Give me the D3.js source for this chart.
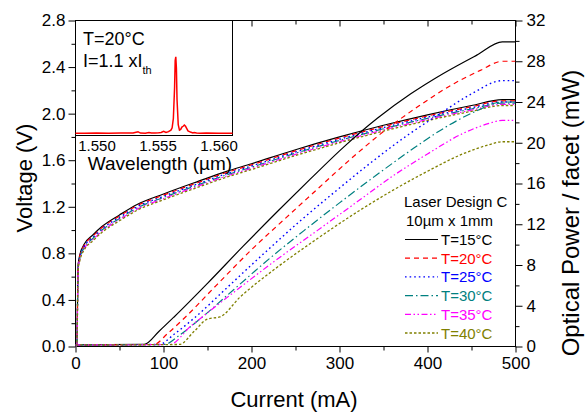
<!DOCTYPE html>
<html><head><meta charset="utf-8">
<script src="https://cdn.jsdelivr.net/npm/d3@7"></script>
<style>
body{margin:0;background:#fff}
svg{display:block}
text{font-family:"Liberation Sans",Arial,Helvetica,sans-serif;fill:#000}
</style>
</head><body>
<svg id="chart" width="586" height="412"></svg>
<script>
// ---------------- data ----------------
const tempLabels = ["T=15°C","T=20°C","T=25°C","T=30°C","T=35°C","T=40°C"];

// Voltage vs current (left axis)
const vCurrent = [0,1.5,3,5,10,20,30,50,70,100,140,170,200,250,300,350,400,450,485,500];
const v15 = [0,0.01,0.70,0.79,0.88,0.96,1.03,1.13,1.22,1.31,1.42,1.50,1.57,1.69,1.80,1.90,1.99,2.07,2.12,2.12];
const v20 = [0,0.01,0.69,0.78,0.87,0.95,1.02,1.12,1.21,1.30,1.41,1.49,1.56,1.68,1.79,1.89,1.98,2.06,2.11,2.11];
const v25 = [0,0.01,0.68,0.77,0.86,0.94,1.01,1.11,1.20,1.29,1.40,1.48,1.55,1.67,1.78,1.88,1.97,2.05,2.10,2.10];
const v30 = [0,0.01,0.68,0.76,0.85,0.93,1.00,1.10,1.19,1.28,1.39,1.47,1.54,1.66,1.77,1.87,1.96,2.04,2.09,2.09];
const v35 = [0,0.01,0.67,0.75,0.84,0.92,0.99,1.09,1.18,1.27,1.38,1.46,1.53,1.65,1.76,1.86,1.95,2.03,2.08,2.08];
const v40 = [0,0.01,0.66,0.74,0.83,0.91,0.98,1.08,1.17,1.26,1.37,1.45,1.52,1.64,1.75,1.85,1.94,2.02,2.07,2.07];

// Optical power vs current (right axis)
const li15I = [0,78,95,112,150,190,230,267,305,343,381,418,456,485,500];
const li15P = [0.15,0.2,1.5,2.9,6.2,9.8,13.3,16.45,19.6,22.4,24.8,26.8,28.6,29.9,29.9];
const li20I = [0,89,105,125,160,200,240,273,310,350,390,430,460,485,500];
const li20P = [0.15,0.2,1.3,2.9,6.0,9.5,12.7,15.3,18.2,21.1,23.6,25.8,27.1,28.0,28.0];
const li25I = [0,95,112,135,175,215,255,295,335,375,415,450,485,500];
const li25P = [0.15,0.2,1.2,2.8,6.0,9.2,12.3,15.2,18.0,20.6,22.9,24.8,26.1,26.1];
const li30I = [0,101,118,140,180,220,260,300,340,380,420,455,485,500];
const li30P = [0.15,0.2,1.1,2.6,5.6,8.6,11.4,14.1,16.7,19.2,21.5,23.1,24.0,24.0];
const li35I = [0,107,131,150,190,225,275,320,360,400,440,470,485,500];
const li35P = [0.15,0.2,2.0,3.3,6.0,8.3,11.4,14.2,16.7,18.9,20.9,21.9,22.2,22.2];
const li40I = [0,118,135,150,164,187,225,275,320,360,400,440,470,485,500];
const li40P = [0.15,0.2,1.5,2.7,2.9,4.85,7.5,10.6,13.2,15.3,17.2,18.9,19.8,20.1,20.1];

// Inset spectrum
const specWl  = [1.5480,1.5490,1.5500,1.5510,1.5520,1.5530,1.5534,1.5536,1.5540,1.5543,1.5545,1.5548,1.5551,1.5553,1.5555,1.5557,1.5559,1.5561,1.5562,1.5563,1.5564,1.55645,1.5565,1.55655,1.5566,1.5567,1.5568,1.5569,1.5570,1.5571,1.5572,1.5573,1.5574,1.5575,1.5577,1.5579,1.5580,1.5582,1.5585,1.5590,1.5600,1.5610,1.5615];
const specInt = [0.01,0.01,0.012,0.01,0.012,0.012,0.03,0.012,0.01,0.02,0.012,0.012,0.015,0.02,0.035,0.02,0.03,0.05,0.08,0.2,0.6,0.95,1.0,0.85,0.45,0.12,0.05,0.06,0.09,0.1,0.115,0.1,0.07,0.04,0.025,0.015,0.02,0.012,0.01,0.012,0.01,0.01,0.01];

// Tick values
const xTicks = [0,100,200,300,400,500];
const xMinor = [50,150,250,350,450];
const vTicks = [0,0.4,0.8,1.2,1.6,2.0,2.4,2.8];
const vMinor = [0.2,0.6,1.0,1.4,1.8,2.2,2.6];
const pTicks = [0,4,8,12,16,20,24,28,32];
const pMinor = [2,6,10,14,18,22,26,30];
const wlTicks = [1.550,1.555,1.560];

// ---------------- styles ----------------
const colors = ["#000000","#ff0000","#0000ff","#008080","#ff00ff","#808000"];
const dashes = [null,"5,4","1.6,3","8,3,1.5,3","6,2.5,1.5,2.5,1.5,2.5","2.5,2"];
const widths = [1.2,1.2,1.4,1.2,1.2,1.3];

const vSeries = [v15,v20,v25,v30,v35,v40];
const liSeries = [[li15I,li15P],[li20I,li20P],[li25I,li25P],[li30I,li30P],[li35I,li35P],[li40I,li40P]];

// ---------------- layout ----------------
const L = 75.5, R = 515.5, T = 20.5, B = 346.5;
const svg = d3.select("#chart");

const x = d3.scaleLinear().domain([0,500]).range([L,R]);
const yV = d3.scaleLinear().domain([0,2.8]).range([B,T]);
const yP = d3.scaleLinear().domain([0,32]).range([B,T]);

svg.append("defs").append("clipPath").attr("id","plotClip")
  .append("rect").attr("x",L).attr("y",T).attr("width",R-L).attr("height",B-T);

const fs = 17;
function styleAxis(g){ g.select(".domain").remove(); g.selectAll("line").attr("stroke","#000"); g.selectAll("text").style("font-size",fs+"px"); }

svg.append("g").attr("transform",`translate(0,${B})`)
  .call(d3.axisBottom(x).tickValues(xTicks).tickSize(6).tickPadding(4).tickFormat(d3.format("d")))
  .call(styleAxis);
svg.append("g").attr("transform",`translate(0,${B})`)
  .call(d3.axisBottom(x).tickValues(xMinor).tickSize(4).tickFormat(""))
  .call(styleAxis);
svg.append("g").attr("transform",`translate(0,${T})`)
  .call(d3.axisTop(x).tickValues(xTicks).tickSize(-6).tickFormat(""))
  .call(styleAxis);
svg.append("g").attr("transform",`translate(0,${T})`)
  .call(d3.axisTop(x).tickValues(xMinor).tickSize(-4).tickFormat(""))
  .call(styleAxis);
svg.append("g").attr("transform",`translate(${L},0)`)
  .call(d3.axisLeft(yV).tickValues(vTicks).tickSize(7).tickPadding(3).tickFormat(d3.format(".1f")))
  .call(styleAxis);
svg.append("g").attr("transform",`translate(${L},0)`)
  .call(d3.axisLeft(yV).tickValues(vMinor).tickSize(4).tickFormat(""))
  .call(styleAxis);
svg.append("g").attr("transform",`translate(${R},0)`)
  .call(d3.axisRight(yP).tickValues(pTicks).tickSize(7).tickPadding(4).tickFormat(d3.format("d")))
  .call(styleAxis);
svg.append("g").attr("transform",`translate(${R},0)`)
  .call(d3.axisRight(yP).tickValues(pMinor).tickSize(4).tickFormat(""))
  .call(styleAxis);

svg.append("rect").attr("x",L).attr("y",T).attr("width",R-L).attr("height",B-T)
  .attr("fill","none").attr("stroke","#000").attr("stroke-width",1);

// axis titles
svg.append("text").attr("x",294).attr("y",407).attr("text-anchor","middle")
  .style("font-size","22px").text("Current (mA)");
svg.append("text").attr("transform",`translate(32,178) rotate(-90)`).attr("text-anchor","middle")
  .style("font-size","22px").text("Voltage (V)");
svg.append("text").attr("transform",`translate(579,213) rotate(-90)`).attr("text-anchor","middle")
  .style("font-size","24px").text("Optical Power / facet (mW)");

// curves
const plot = svg.append("g").attr("clip-path","url(#plotClip)");
const lineV = d3.line().x((d,i)=>x(vCurrent[i])).y(d=>yV(d)).curve(d3.curveMonotoneX);
vSeries.forEach((s,k)=>{
  plot.append("path").datum(s).attr("d",lineV).attr("fill","none")
    .attr("stroke",colors[k]).attr("stroke-width",widths[k])
    .attr("stroke-dasharray",dashes[k]);
});
liSeries.forEach((s,k)=>{
  const [I,P] = s;
  const ln = d3.line().x((d,i)=>x(I[i])).y(d=>yP(d)).curve(d3.curveMonotoneX);
  plot.append("path").datum(P).attr("d",ln).attr("fill","none")
    .attr("stroke",colors[k]).attr("stroke-width",widths[k])
    .attr("stroke-dasharray",dashes[k]);
});

// legend
const lg = svg.append("g");
lg.append("text").attr("x",404).attr("y",207).style("font-size","15px").text("Laser Design C");
lg.append("text").attr("x",406).attr("y",226).style("font-size","15px").text("10µm x 1mm");
tempLabels.forEach((t,k)=>{
  const cy = 239.5 + k*18.7;
  lg.append("line").attr("x1",405).attr("x2",438).attr("y1",cy).attr("y2",cy)
    .attr("stroke",colors[k]).attr("stroke-width",widths[k]).attr("stroke-dasharray",dashes[k]);
  lg.append("text").attr("x",441).attr("y",cy+5.5).style("font-size","15px")
    .style("fill",colors[k]).text(t);
});

// inset
const iL = L, iR = 232.5, iT = T, iB = 135.5;
const xi = d3.scaleLinear().domain([1.548279,1.561148]).range([iL,iR]);
const yi = d3.scaleLinear().domain([0,1.47]).range([134,iT]);
svg.append("rect").attr("x",iL).attr("y",iT).attr("width",iR-iL).attr("height",iB-iT)
  .attr("fill","#fff").attr("stroke","#000").attr("stroke-width",1);
svg.append("defs").append("clipPath").attr("id","insetClip")
  .append("rect").attr("x",iL).attr("y",iT).attr("width",iR-iL).attr("height",iB-iT);
svg.append("path").datum(specInt).attr("clip-path","url(#insetClip)")
  .attr("d",d3.line().x((d,i)=>xi(specWl[i])).y(d=>yi(d)))
  .attr("fill","none").attr("stroke","#ff0000").attr("stroke-width",1.5);
svg.append("g").attr("transform",`translate(0,${iB})`)
  .call(d3.axisBottom(xi).tickValues(wlTicks).tickSize(0).tickPadding(5).tickFormat(d3.format(".3f")))
  .call(g=>{g.select(".domain").remove(); g.selectAll("text").style("font-size","15px");});
svg.append("text").attr("x",160).attr("y",170).attr("text-anchor","middle")
  .style("font-size","19px").text("Wavelength (µm)");
svg.append("text").attr("x",83).attr("y",45).style("font-size","18px").text("T=20°C");
const t2 = svg.append("text").attr("x",83).attr("y",67).style("font-size","18px");
t2.append("tspan").text("I=1.1 xI");
t2.append("tspan").attr("dy",7).style("font-size","11px").text("th");
</script>
</body></html>
